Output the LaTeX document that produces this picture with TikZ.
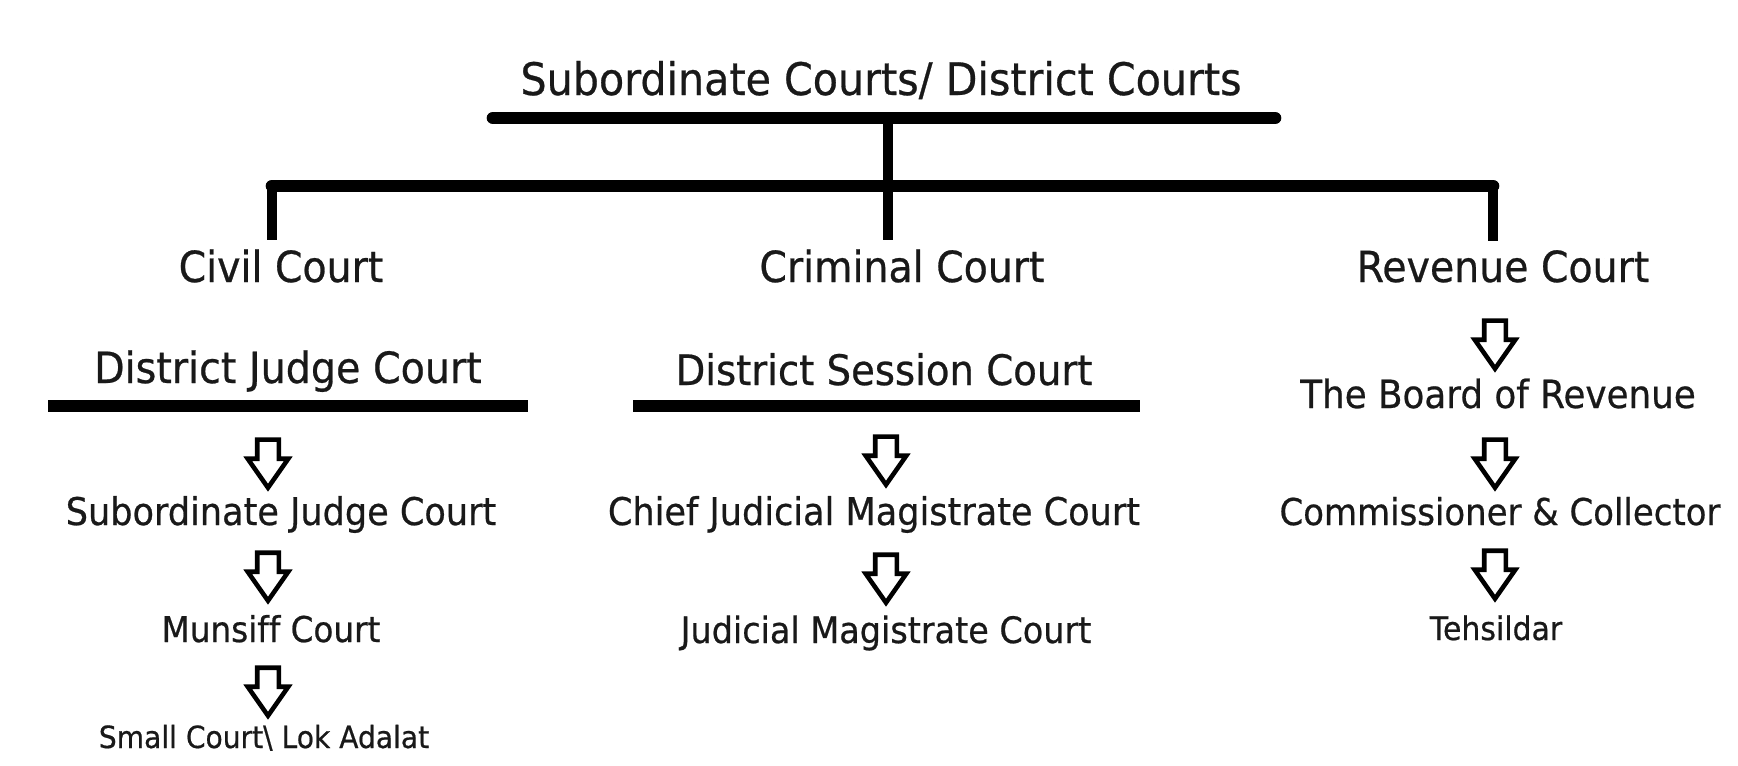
\documentclass[tikz,border=0pt]{standalone}
\usepackage{fontspec}
\setmainfont[FakeStretch=0.92,FakeBold=0.6,Ligatures=NoCommon]{DejaVu Sans}
\usetikzlibrary{shapes.arrows}
\tikzset{%
  court/.style      = {anchor=base, inner sep=0pt, text=black!90, font=\fontsize{#1}{#1}\selectfont},%
  bar/.style        = {line width=7.2pt, line cap=round},%
  subbar/.style     = {line width=6.8pt},%
  stem/.style       = {line width=5.4pt},%
  blockarrow/.style = {single arrow, draw, line width=2.6pt, rotate=-90,%
                       minimum height=0.96cm, minimum width=0.72cm, inner sep=0.17cm,%
                       single arrow head extend=0.19cm, single arrow tip angle=70}%
}
\begin{document}
\begin{tikzpicture}[x=0.02cm,y=-0.02cm]
\useasboundingbox (0,0) rectangle (1738,765);
	\node[court=25.5] (top) at (881,95) {Subordinate Courts/ District Courts};
	\coordinate (t1) at (493,118);
	\coordinate (t2) at (1275,118);
	\coordinate (hub) at (888,118);
	\coordinate (b1) at (272,186);
	\coordinate (b2) at (1493,186);
	\draw[bar] (t1) -- (t2);
	\draw[bar] (b1) -- (b2);
	% the three branches
	\node[court=24.4] (civil) at (281,282) {Civil Court};
	\node[court=24.4] (criminal) at (902,282) {Criminal Court};
	\node[court=24.4] (revenue) at (1503,282) {Revenue Court};
	\draw[stem] (hub) -- ([yshift=5pt]hub |- criminal.north);
	\draw[stem] (b1) -- ([yshift=5pt]b1 |- civil.north);
	\draw[stem] (b2) -- ([yshift=5pt]b2 |- revenue.north);
	% civil
	\node[court=24.5] (djc) at (288,383) {District Judge Court};
	\draw[subbar] (48,406) coordinate (d1) -- (528,406) coordinate (d2);
	\node[blockarrow] (c1) at (268,456) {};
	\node[court=21.7] (sjc) at (281,525) {Subordinate Judge Court};
	\node[blockarrow] (c2) at (268,569) {};
	\node[court=20.2] (munsiff) at (271,642) {Munsiff Court};
	\node[blockarrow] (c3) at (268,684) {};
	\node[court=17.4] (small) at (264,748) {Small Court\textbackslash{} Lok Adalat};
	% criminal
	\node[court=23.9] (dsc) at (884,385) {District Session Court};
	\draw[subbar] (633,406) coordinate (s1) -- (1140,406) coordinate (s2);
	\node[blockarrow] (m1) at (886,453) {};
	\node[court=21.7] (cjm) at (874,525) {Chief Judicial Magistrate Court};
	\node[blockarrow] (m2) at (886,571) {};
	\node[court=20.7] (jmc) at (886,643) {Judicial Magistrate Court};
	% revenue
	\node[blockarrow] (r1) at (1495,337) {};
	\node[court=22.1] (board) at (1498,408) {The Board of Revenue};
	\node[blockarrow] (r2) at (1495,456) {};
	\node[court=21] (commis) at (1500,525) {Commissioner \& Collector};
	\node[blockarrow] (r3) at (1495,567) {};
	\node[court=18.5] (tehsil) at (1496,640) {Tehsildar};
\end{tikzpicture}
\end{document}
